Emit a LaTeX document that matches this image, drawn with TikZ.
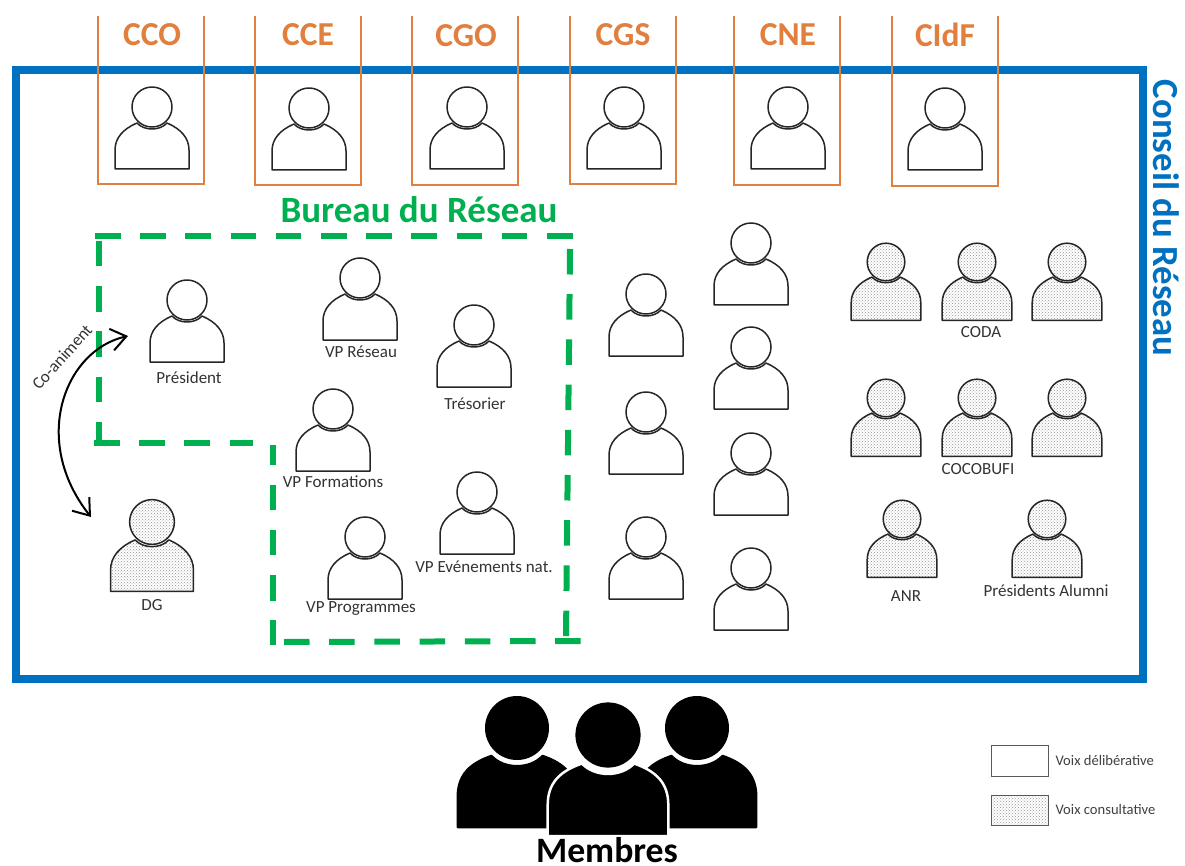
\documentclass[tikz,border=0pt]{standalone}
\usepackage{fontspec}
\setmainfont{Carlito}
\usetikzlibrary{patterns,arrows.meta}
\definecolor{cblue}{HTML}{0070C0}
\definecolor{corange}{HTML}{E07F3E}
\definecolor{cgreen}{HTML}{00B050}
\tikzset{
  bodyshape/.style={draw=black!85,line width=1.5pt,fill=white,line join=round},
  dotted fill/.style={preaction={fill=white},pattern=crosshatch dots,pattern color=black!42},
  orangebox/.style={draw=corange,line width=2.6pt},
  orangelabel/.style={text=corange,font=\bfseries\fontsize{33.5}{34}\selectfont},
  greendash/.style={draw=cgreen,line width=6pt,dash pattern=on 25.5pt off 19.7pt},
  lbl/.style={font=\fontsize{17}{18}\selectfont,text=black!80,inner sep=0pt},
  legendbox/.style={draw=black!65,line width=1pt},
  legendlbl/.style={font=\fontsize{14.6}{15}\selectfont,text=black!75,anchor=west},
  arrowline/.style={draw=black,line width=2pt,{Straight Barb[length=15pt,width=22pt,line width=2pt]}-{Straight Barb[length=15pt,width=22pt,line width=2pt]}}
}
% #1 cx, #2 cy (head centre), #3 scale, #4 extra style
\newcommand{\personshape}[4]{%
  \begin{scope}[shift={(#1,#2)},x=#3pt,y=-#3pt]
    \path[bodyshape,#4] (-37,62) -- (-37,43) .. controls (-37,31) and (-29,22) .. (-15,16)
       .. controls (-8,24) and (8,24) .. (15,16)
       .. controls (29,22) and (37,31) .. (37,43) -- (37,62) -- cycle;
    \path[bodyshape,#4] (0,0) circle[radius=20];
  \end{scope}}
\newcommand{\blackperson}[4]{%
  \begin{scope}[shift={(#1,#2)},x=#3pt,y=-#3pt]
    \path[fill=black,draw=#4,line width=2.5pt,line join=round] (-37,62) -- (-37,43) .. controls (-37,29) and (-29,22) .. (-16,17.5)
       .. controls (-8,26) and (8,26) .. (16,17.5)
       .. controls (29,22) and (37,29) .. (37,43) -- (37,62) -- cycle;
    \path[fill=black] (0,0) circle[radius=20];
  \end{scope}}
\begin{document}
\begin{tikzpicture}[x=1pt,y=-1pt]
\useasboundingbox (0,0) rectangle (1185,866);
\fill[white] (0,0) rectangle (1185,866);

% Conseil du Reseau
\draw[cblue,line width=8.5pt] (16,70) rectangle (1143,679);
\node[rotate=-90,text=cblue,font=\bfseries\fontsize{36.8}{37}\selectfont] (conseil) at (1166,218) {Conseil du Réseau};

% Orange boxes
\draw[orangebox] (98,16) -- (98,184) -- (204,184) -- (204,16);
\draw[orangebox] (255,16) -- (255,185) -- (361,185) -- (361,16);
\draw[orangebox] (412,16) -- (412,185) -- (518,185) -- (518,16);
\draw[orangebox] (570,16) -- (570,184) -- (676,184) -- (676,16);
\draw[orangebox] (734,16) -- (734,185) -- (840,185) -- (840,16);
\draw[orangebox] (892,16) -- (892,186) -- (998,186) -- (998,16);
\node[orangelabel] (cco) at (152,35) {CCO};
\node[orangelabel] (cce) at (308,35) {CCE};
\node[orangelabel] (cgo) at (466,36) {CGO};
\node[orangelabel] (cgs) at (623,35) {CGS};
\node[orangelabel] (cne) at (788,35) {CNE};
\node[orangelabel] (cidf) at (945,35) {CIdF};
\personshape{152}{107}{1}{}
\personshape{309}{108}{1}{}
\personshape{467}{107}{1}{}
\personshape{624}{107}{1}{}
\personshape{788}{107}{1}{}
\personshape{945}{108}{1}{}

% Bureau
\node[text=cgreen,font=\bfseries\fontsize{37}{37}\selectfont] (bureau) at (419,210) {Bureau du Réseau};
\draw[greendash] (95,236) -- (573,236);
\draw[greendash] (99,241) -- (99,446);
\draw[greendash] (94,443) -- (253,443);
\draw[greendash,dash phase=5.5pt] (273,445) -- (273,645);
\draw[greendash] (284,642) -- (582,641);
\draw[greendash] (570,249) -- (566,637);

\personshape{187}{300}{1}{}
\personshape{360}{278}{1}{}
\personshape{474}{325}{1}{}
\personshape{333}{409}{1}{}
\personshape{477}{492}{1}{}
\personshape{365}{537}{1}{}
\node[lbl] (pres) at (189,378) {Président};
\node[lbl] (vpres) at (361,352) {VP Réseau};
\node[lbl] (treso) at (475,404) {Trésorier};
\node[lbl] (vpform) at (333,482) {VP Formations};
\node[lbl] (vpevt) at (484,567) {VP Evénements nat.};
\node[lbl] (vpprog) at (361,609) {VP Programmes};

% DG and arrow
\personshape{152}{522}{1.12}{dotted fill}
\node[lbl] (dg) at (152,605) {DG};
\coordinate (arrA) at (128,336);
\coordinate (arrB) at (91,517);
\draw[arrowline] (arrA) .. controls (65,350) and (30,440) .. (arrB);
\node[lbl,rotate=48] (coanim) at (62,357) {Co-animent};

% Middle columns
\personshape{646}{294}{1}{}
\personshape{646}{412}{1}{}
\personshape{646}{537}{1}{}
\personshape{751}{243}{1}{}
\personshape{751}{347}{1}{}
\personshape{751}{453}{1}{}
\personshape{751}{568}{1}{}

% Consultative groups
\personshape{886}{262}{.94}{dotted fill}
\personshape{977}{262}{.94}{dotted fill}
\personshape{1067}{262}{.94}{dotted fill}
\personshape{886}{398}{.94}{dotted fill}
\personshape{977}{398}{.94}{dotted fill}
\personshape{1067}{398}{.94}{dotted fill}
\personshape{902}{519}{.94}{dotted fill}
\personshape{1047}{519}{.94}{dotted fill}
\node[lbl] (coda) at (981,332) {CODA};
\node[lbl] (cocobufi) at (978,469) {COCOBUFI};
\node[lbl] (anr) at (906,596) {ANR};
\node[lbl] (alumni) at (1046,591) {Présidents Alumni};

% Membres
\blackperson{517}{728}{1.6}{black}
\blackperson{697}{728}{1.6}{black}
\blackperson{608}{735}{1.63}{white}
\node[inner sep=0pt,font=\bfseries\fontsize{35.7}{36}\selectfont,text=black] (membres) at (607,850) {Membres};

% Legend
\draw[legendbox] (991,745) rectangle (1048,776);
\draw[legendbox,dotted fill] (991,795) rectangle (1048,825);
\node[legendlbl] (voixd) at (1052,760) {Voix délibérative};
\node[legendlbl] (voixc) at (1052,809) {Voix consultative};
\end{tikzpicture}
\end{document}
